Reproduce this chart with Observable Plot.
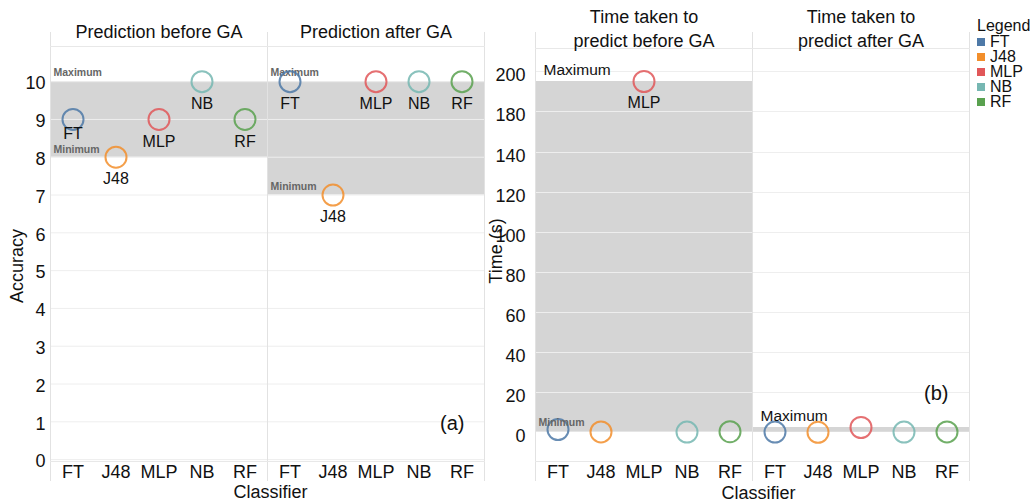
<!DOCTYPE html>
<html><head><meta charset="utf-8">
<script src="https://cdn.jsdelivr.net/npm/d3@7"></script>
<script src="https://cdn.jsdelivr.net/npm/@observablehq/plot@0.6"></script>
<style>
body{margin:0;background:#fff;font-family:"Liberation Sans",Arial,sans-serif;}
#wrap{position:relative;width:1033px;height:502px;overflow:hidden;background:#fff;}
#a{position:absolute;left:0;top:0;}
#b{position:absolute;left:470px;top:0;}
#legend{position:absolute;left:977px;top:18px;font-size:16px;color:#111;}
#legend .ttl{line-height:16px;}
#legend div[class$="-swatch"]{line-height:15px;height:15px;padding:0 !important;}
#legend svg{margin-right:5px !important;}
</style></head><body><div id="wrap"><div id="a"></div><div id="b"></div><div id="legend"></div></div>
<script>
const classifiers = ["FT", "J48", "MLP", "NB", "RF"];
const colors = ["#4e79a7", "#f28e2b", "#e15759", "#76b7b2", "#59a14f"];
const accuracyFacets = ["Prediction before GA", "Prediction after GA"];
const accuracyBefore = [9, 8, 9, 10, 9];
const accuracyAfter = [10, 7, 10, 10, 10];
const accuracyTicks = [0, 1, 2, 3, 4, 5, 6, 7, 8, 9, 10];
const timeFacets = ["Time taken to\npredict before GA", "Time taken to\npredict after GA"];
const timeBefore = [1.5, 0.3, 195, 0.2, 0.4];
const timeAfter = [0.2, 0.1, 2.5, 0.2, 0.3];
const timeTicks = [0, 20, 40, 60, 80, 100, 120, 140, 180, 200];

const FONT = '"Liberation Sans", Arial, sans-serif';
const BAND = "#d5d5d5";

function rows(facets, before, after) {
  return [
    ...before.map((v, i) => ({facet: facets[0], cls: classifiers[i], value: v})),
    ...after.map((v, i) => ({facet: facets[1], cls: classifiers[i], value: v}))
  ];
}
function bands(facets, before, after) {
  return [[facets[0], before], [facets[1], after]].map(([f, vals]) =>
    ({facet: f, min: d3.min(vals), max: d3.max(vals)}));
}

const rowsA = rows(accuracyFacets, accuracyBefore, accuracyAfter);
const bandsA = bands(accuracyFacets, accuracyBefore, accuracyAfter);
const rowsB = rows(timeFacets, timeBefore, timeAfter);
const bandsB = bands(timeFacets, timeBefore, timeAfter);

const color = {domain: classifiers, range: colors};
const edges = (top, bottom) => [
  Plot.frame({anchor: "left", stroke: "#e2e2e2", strokeOpacity: 1, insetTop: -top, insetBottom: -bottom}),
  Plot.frame({anchor: "right", stroke: "#e2e2e2", strokeOpacity: 1, insetTop: -top, insetBottom: -bottom}),
  Plot.frame({anchor: "top", stroke: "#e8e8e8", strokeOpacity: 1}),
  Plot.frame({anchor: "bottom", stroke: "#e8e8e8", strokeOpacity: 1})
];

// ---------- Panel (a) ----------
const plotA = Plot.plot({
  width: 490, height: 502,
  marginLeft: 50, marginRight: 6, marginTop: 46, marginBottom: 41,
  style: {fontFamily: FONT, fontSize: "18px", color: "#111", background: "transparent"},
  fx: {domain: accuracyFacets, padding: 0, label: null},
  x: {type: "band", domain: classifiers, padding: 0, label: null},
  y: {domain: [-0.05, 10.93], label: null},
  color,
  marks: [
    Plot.rect(bandsA, {fx: "facet", y1: "min", y2: "max", fill: BAND}),
    Plot.gridY(accuracyTicks, {stroke: "#eeeeee", strokeOpacity: 1}),
    ...edges(14, 19),
    Plot.axisY(accuracyTicks, {tickSize: 0, tickPadding: 5, fontSize: 18, dy: 2, fill: "#111"}),
    Plot.axisX({tickSize: 0, tickPadding: 4, fontSize: 18, fill: "#111"}),
    Plot.axisFx({anchor: "top", tickSize: 0, tickPadding: 9, fontSize: 18, fill: "#111", label: null}),
    Plot.text(bandsA, {fx: "facet", y: "max", text: () => "Maximum", frameAnchor: "left", textAnchor: "start", dx: 3, dy: -9, fontSize: 10.5, fontWeight: "bold", fill: "#666", ariaLabel: "box-#ececec"}),
    Plot.text(bandsA, {fx: "facet", y: "min", text: () => "Minimum", frameAnchor: "left", textAnchor: "start", dx: 3, dy: -8, fontSize: 10.5, fontWeight: "bold", fill: "#666", ariaLabel: "box-#e9e9e9"}),
    Plot.dot(rowsA, {fx: "facet", x: "cls", y: "value", stroke: "cls", r: 10.5, strokeWidth: 2, strokeOpacity: 0.85, fill: "none"}),
    Plot.text(rowsA.filter(d => !(d.facet === accuracyFacets[0] && d.cls === "FT")), {fx: "facet", x: "cls", y: "value", text: "cls", dy: 22, fontSize: 16, fill: "#111"}),
    Plot.text(rowsA.filter(d => d.facet === accuracyFacets[0] && d.cls === "FT"), {fx: "facet", x: "cls", y: "value", text: "cls", dy: 14, fontSize: 16, fill: "#111", ariaLabel: "box-" + BAND}),
    Plot.text([{facet: accuracyFacets[1]}], {fx: "facet", text: () => "(a)", frameAnchor: "bottom-right", textAnchor: "end", lineAnchor: "middle", dx: -20, dy: -38, fontSize: 20, fill: "#111"}),
    Plot.text([{facet: accuracyFacets[1]}], {fx: "facet", text: () => "Classifier", frameAnchor: "bottom-left", textAnchor: "middle", lineAnchor: "middle", dx: 3, dy: 31, fontSize: 18, fill: "#111"}),
    Plot.text([{facet: accuracyFacets[0]}], {fx: "facet", text: () => "Accuracy", frameAnchor: "left", textAnchor: "middle", lineAnchor: "middle", rotate: -90, dx: -33, dy: 12, fontSize: 18, fill: "#111"})
  ]
});

// ---------- Panel (b) ----------
const plotB = Plot.plot({
  width: 505, height: 502,
  marginLeft: 65, marginRight: 6, marginTop: 48, marginBottom: 41,
  style: {fontFamily: FONT, fontSize: "18px", color: "#111", background: "transparent"},
  fx: {domain: timeFacets, padding: 0, label: null},
  x: {type: "band", domain: classifiers, padding: 0, label: null},
  y: {type: "linear", domain: [-14.5, 0, 140, 180, 211.5], range: [461, 432, 152, 111, 48], label: null},
  color,
  marks: [
    Plot.rect(bandsB, {fx: "facet", y1: "min", y2: "max", fill: BAND}),
    Plot.gridY(timeTicks.filter(t => t > 0), {stroke: "#eeeeee", strokeOpacity: 1}),
    ...edges(16, 19),
    Plot.axisY(timeTicks, {tickSize: 0, tickPadding: 10, fontSize: 18, dy: 4, fill: "#111"}),
    Plot.axisX({tickSize: 0, tickPadding: 4, fontSize: 18, fill: "#111"}),
    Plot.axisFx({anchor: "top", tickSize: 0, tickPadding: 2, fontSize: 18, lineHeight: 1.3, fill: "#111", label: null}),
    Plot.dot(rowsB, {fx: "facet", x: "cls", y: "value", stroke: "cls", r: 10.5, strokeWidth: 2, strokeOpacity: 0.85, fill: "none"}),
    Plot.text(rowsB.filter(d => d.value > 100), {fx: "facet", x: "cls", y: "value", text: "cls", dy: 21, fontSize: 16, fill: "#111"}),
    Plot.text(bandsB, {fx: "facet", y: "max", text: () => "Maximum", frameAnchor: "left", textAnchor: "start", dx: 8, dy: -11, fontSize: 15.5, fill: "#111", ariaLabel: "box-#ffffff"}),
    Plot.text(bandsB.slice(0, 1), {fx: "facet", y: "min", text: () => "Minimum", frameAnchor: "left", textAnchor: "start", dx: 3, dy: -9, fontSize: 10.5, fontWeight: "bold", fill: "#666", ariaLabel: "box-#e9e9e9"}),
    Plot.text([{facet: timeFacets[1]}], {fx: "facet", text: () => "(b)", frameAnchor: "bottom-right", textAnchor: "end", lineAnchor: "middle", dx: -21, dy: -68, fontSize: 20, fill: "#111"}),
    Plot.text([{facet: timeFacets[1]}], {fx: "facet", text: () => "Classifier", frameAnchor: "bottom-left", textAnchor: "middle", lineAnchor: "middle", dx: 6, dy: 32, fontSize: 18, fill: "#111"}),
    Plot.text([{facet: timeFacets[0]}], {fx: "facet", text: () => "Time (s)", frameAnchor: "left", textAnchor: "middle", lineAnchor: "middle", rotate: -90, dx: -39, dy: -4, fontSize: 18, fill: "#111"})
  ]
});

document.getElementById("a").appendChild(plotA);
document.getElementById("b").appendChild(plotB);

// background boxes behind labels (Tableau-style label boxes)
for (const svg of [plotA, plotB]) {
  svg.querySelectorAll('g[aria-label^="box-"]').forEach(g => {
    const fill = g.getAttribute("aria-label").slice(4);
    g.querySelectorAll("text").forEach(t => {
      const b = t.getBBox();
      const r = document.createElementNS("http://www.w3.org/2000/svg", "rect");
      r.setAttribute("x", b.x - 3); r.setAttribute("y", b.y - 1);
      r.setAttribute("width", b.width + 6); r.setAttribute("height", b.height + 2);
      r.setAttribute("fill", fill);
      const tr = t.getAttribute("transform");
      if (tr) r.setAttribute("transform", tr);
      t.parentNode.insertBefore(r, t);
    });
  });
}

// legend
const legendEl = document.getElementById("legend");
const ttl = document.createElement("div");
ttl.className = "ttl"; ttl.textContent = "Legend";
legendEl.appendChild(ttl);
legendEl.appendChild(Plot.legend({color: {type: "ordinal", domain: classifiers, range: colors}, columns: 1, swatchSize: 8, style: {fontFamily: FONT, fontSize: "16px", color: "#111", margin: 0}}));
</script></body></html>
